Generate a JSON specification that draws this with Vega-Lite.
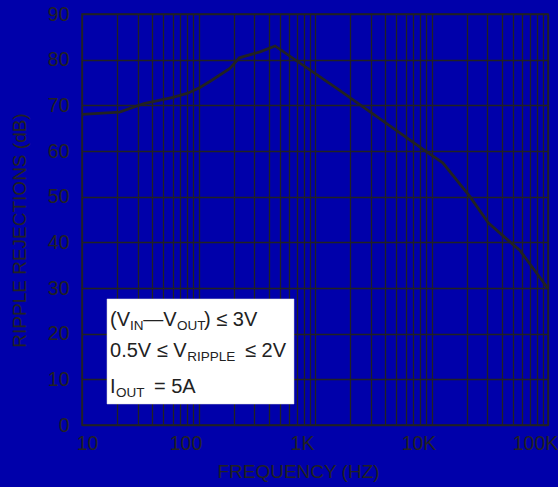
{
  "$schema": "https://vega.github.io/schema/vega-lite/v6.json",
  "width": 466,
  "height": 411,
  "autosize": {"type": "none"},
  "padding": {"left": 82, "top": 14, "right": 10, "bottom": 62},
  "background": "#0000AA",
  "config": {
    "view": {"stroke": "#222222", "strokeWidth": 1.5},
    "font": "Liberation Sans",
    "axis": {
      "domain": false,
      "ticks": false,
      "gridColor": "#222222",
      "gridWidth": 1.3,
      "gridOpacity": 1,
      "labelColor": "#222222",
      "labelFont": "Liberation Sans",
      "labelFontSize": 19.5,
      "titleColor": "#222222",
      "titleFont": "Liberation Sans",
      "titleFontSize": 19,
      "titleFontWeight": "normal"
    }
  },
  "datasets": {
    "curve": [
      {"freq": 10, "db": 68.0},
      {"freq": 21, "db": 68.5},
      {"freq": 34, "db": 70.4},
      {"freq": 59, "db": 71.7},
      {"freq": 80, "db": 72.6},
      {"freq": 103, "db": 73.9},
      {"freq": 130, "db": 75.5},
      {"freq": 186, "db": 78.1},
      {"freq": 224, "db": 80.4},
      {"freq": 337, "db": 81.7},
      {"freq": 454, "db": 83.0},
      {"freq": 1640, "db": 73.2},
      {"freq": 9100, "db": 59.8},
      {"freq": 12500, "db": 57.4},
      {"freq": 21400, "db": 50.0},
      {"freq": 30700, "db": 44.3},
      {"freq": 47200, "db": 40.1},
      {"freq": 57500, "db": 38.2},
      {"freq": 100000, "db": 29.9}
    ],
    "box": [{"f1": 16.4, "f2": 660, "d1": 4.6, "d2": 27.6}],
    "main": [
      {"f": 17.4, "d": 21.68, "t": "(V"},
      {"f": 33.6, "d": 21.68, "t": "—V"},
      {"f": 111.5, "d": 21.68, "t": ") ≤ 3V"},
      {"f": 17.4, "d": 14.82, "t": "0.5V ≤ V"},
      {"f": 250.6, "d": 14.82, "t": "≤ 2V"},
      {"f": 17.4, "d": 7.07, "t": "I"},
      {"f": 41.5, "d": 7.07, "t": "= 5A"}
    ],
    "sub": [
      {"f": 25.8, "d": 21.68, "t": "IN"},
      {"f": 65.4, "d": 21.68, "t": "OUT"},
      {"f": 80.2, "d": 14.82, "t": "RIPPLE"},
      {"f": 19.6, "d": 7.07, "t": "OUT"}
    ]
  },
  "layer": [
    {
      "data": {"name": "curve"},
      "mark": {"type": "line", "color": "#222222", "strokeWidth": 2.8},
      "encoding": {
        "x": {
          "field": "freq",
          "type": "quantitative",
          "scale": {"type": "log", "domain": [10, 100000], "nice": false},
          "axis": {
            "title": "FREQUENCY (HZ)",
            "values": [10,20,30,40,50,60,70,80,90,100,200,300,400,500,600,700,800,900,1000,2000,3000,4000,5000,6000,7000,8000,9000,10000,20000,30000,40000,50000,60000,70000,80000,90000,100000],
            "labelExpr": "datum.value == 10 ? '10' : datum.value == 100 ? '100' : datum.value == 1000 ? '1K' : datum.value == 10000 ? '10K' : datum.value == 100000 ? '100K' : ''",
            "labelOverlap": false,
            "labelFlush": false,
            "labelAlign": "center",
            "labelOffset": {"condition": {"test": "datum.value == 10", "value": 5}, "value": -13},
            "labelPadding": 9,
            "titleX": 216,
            "titleY": 52,
            "titleAnchor": "middle",
            "titleAlign": "center",
            "titleBaseline": "alphabetic"
          }
        },
        "y": {
          "field": "db",
          "type": "quantitative",
          "scale": {"domain": [0, 90], "nice": false},
          "axis": {
            "title": "RIPPLE REJECTIONS (dB)",
            "values": [0,10,20,30,40,50,60,70,80,90],
            "labelPadding": 13,
            "titleAngle": -90,
            "titleX": -63,
            "titleY": 216,
            "titleAlign": "center",
            "titleBaseline": "middle",
            "titleAnchor": "middle"
          }
        }
      }
    },
    {
      "data": {"name": "box"},
      "mark": {"type": "rect", "fill": "white", "stroke": "#dddddd", "strokeWidth": 0.5},
      "encoding": {
        "x": {"field": "f1", "type": "quantitative"},
        "x2": {"field": "f2"},
        "y": {"field": "d1", "type": "quantitative"},
        "y2": {"field": "d2"}
      }
    },
    {
      "data": {"name": "main"},
      "mark": {"type": "text", "align": "left", "baseline": "alphabetic", "font": "Liberation Sans", "fontSize": 20, "color": "#222222"},
      "encoding": {
        "x": {"field": "f", "type": "quantitative"},
        "y": {"field": "d", "type": "quantitative"},
        "text": {"field": "t"}
      }
    },
    {
      "data": {"name": "sub"},
      "mark": {"type": "text", "align": "left", "baseline": "alphabetic", "dy": 4, "font": "Liberation Sans", "fontSize": 13.5, "color": "#222222"},
      "encoding": {
        "x": {"field": "f", "type": "quantitative"},
        "y": {"field": "d", "type": "quantitative"},
        "text": {"field": "t"}
      }
    }
  ]
}
